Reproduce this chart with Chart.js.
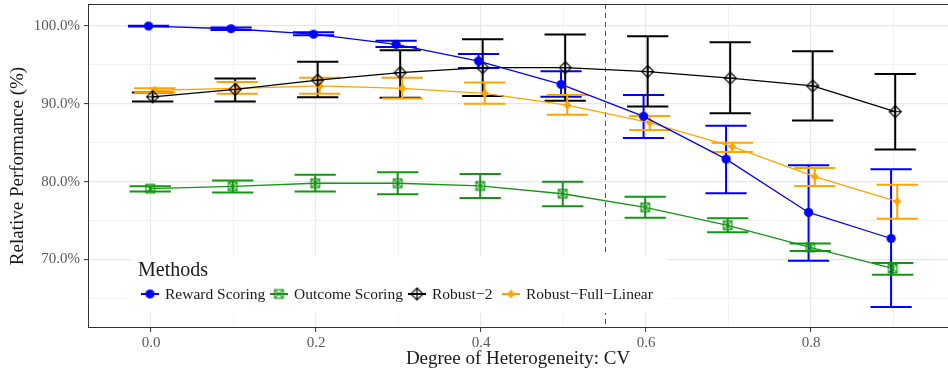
<!DOCTYPE html>
<html>
<head>
<meta charset="utf-8">
<script src="https://cdn.jsdelivr.net/npm/chart.js@4.4.1/dist/chart.umd.min.js"></script>
<style>
  html, body { margin: 0; padding: 0; background: #fff; }
  #wrap { width: 948px; height: 373px; }
</style>
</head>
<body>
<div id="wrap"><canvas id="perfChart" width="948" height="373"></canvas></div>
<script>
// CV levels on the x axis
const cvLevels = [0.0, 0.1, 0.2, 0.3, 0.4, 0.5, 0.6, 0.7, 0.8, 0.9];

// relative performance (%) with lower / upper error bounds
const rewardMean = [100.0, 99.65, 98.95, 97.65, 95.5, 92.5, 88.4, 82.9, 76.05, 72.7];
const rewardLow  = [99.95, 99.5, 98.8, 97.3, 94.6, 90.9, 85.6, 78.5, 69.85, 63.9];
const rewardHigh = [100.05, 99.8, 99.2, 98.1, 96.4, 94.2, 91.15, 87.2, 82.1, 81.6];

const outcomeMean = [79.1, 79.4, 79.8, 79.8, 79.45, 78.45, 76.7, 74.4, 71.55, 68.85];
const outcomeLow  = [78.75, 78.6, 78.75, 78.4, 77.9, 76.85, 75.35, 73.5, 71.1, 68.05];
const outcomeHigh = [79.4, 80.15, 80.9, 81.2, 81.0, 80.0, 78.05, 75.3, 72.05, 69.55];

const robust2Mean = [90.9, 91.85, 93.05, 94.0, 94.65, 94.65, 94.15, 93.3, 92.3, 89.0];
const robust2Low  = [90.3, 90.3, 90.85, 90.8, 91.0, 90.4, 89.65, 88.8, 87.85, 84.15];
const robust2High = [91.45, 93.25, 95.4, 96.9, 98.3, 98.9, 98.7, 97.9, 96.75, 93.85];

const fullLinMean = [91.75, 92.0, 92.3, 92.0, 91.35, 89.85, 87.6, 84.5, 80.65, 77.45];
const fullLinLow  = [91.45, 91.3, 91.3, 90.7, 90.0, 88.6, 86.65, 83.8, 79.45, 75.25];
const fullLinHigh = [92.0, 92.8, 93.35, 93.35, 92.75, 91.15, 88.45, 85.0, 81.75, 79.6];

const methodNames = ['Reward Scoring', 'Outcome Scoring', 'Robust\u22122', 'Robust\u2212Full\u2212Linear'];

const xTicks = [0.0, 0.2, 0.4, 0.6, 0.8];
const yTicks = [70, 80, 90, 100];
const cvCutoff = 0.55;

const SERIF = '"Liberation Serif", "DejaVu Serif", serif';
const GREEN = '#139613';

// marker images ---------------------------------------------------------
function markerCanvas(kind, color) {
    const c = document.createElement('canvas');
    c.width = 15; c.height = 15;
    const g = c.getContext('2d');
    const m = 7.5;
    g.strokeStyle = color;
    g.fillStyle = color;
    g.lineWidth = 1.2;
    if (kind === 'circle') {
        g.beginPath(); g.arc(m, m, 4.6, 0, Math.PI * 2); g.fill();
    } else if (kind === 'boxcross') {
        g.strokeRect(m - 4.3, m - 4.3, 8.6, 8.6);
        g.beginPath();
        g.moveTo(m - 4.3, m - 4.3); g.lineTo(m + 4.3, m + 4.3);
        g.moveTo(m + 4.3, m - 4.3); g.lineTo(m - 4.3, m + 4.3);
        g.stroke();
    } else if (kind === 'diamondplus') {
        g.beginPath();
        g.moveTo(m, m - 6); g.lineTo(m + 6, m); g.lineTo(m, m + 6); g.lineTo(m - 6, m); g.closePath();
        g.stroke();
        g.beginPath();
        g.moveTo(m, m - 6); g.lineTo(m, m + 6);
        g.moveTo(m - 6, m); g.lineTo(m + 6, m);
        g.stroke();
    } else if (kind === 'diamond') {
        g.beginPath();
        g.moveTo(m, m - 4.5); g.lineTo(m + 4, m); g.lineTo(m, m + 4.5); g.lineTo(m - 4, m); g.closePath();
        g.fill();
    }
    return c;
}

const series = [
    { name: methodNames[0], mean: rewardMean,  low: rewardLow,  high: rewardHigh,  color: '#0000ff', marker: 'circle',      dodge: -0.003 },
    { name: methodNames[1], mean: outcomeMean, low: outcomeLow, high: outcomeHigh, color: GREEN,     marker: 'boxcross',    dodge: -0.001 },
    { name: methodNames[2], mean: robust2Mean, low: robust2Low, high: robust2High, color: '#000000', marker: 'diamondplus', dodge: 0.002 },
    { name: methodNames[3], mean: fullLinMean, low: fullLinLow, high: fullLinHigh, color: '#ffa500', marker: 'diamond',     dodge: 0.0045 }
];
series.forEach(s => { s.img = markerCanvas(s.marker, s.color); });

// legend key left edges
const legendKeyX = [141, 270, 408, 502];

// error bars + cutoff line, under the series
const errorBars = {
    id: 'errorBars',
    beforeDatasetsDraw(chart) {
        const { ctx, chartArea, scales: { x, y } } = chart;
        ctx.save();
        ctx.beginPath();
        ctx.rect(chartArea.left, chartArea.top, chartArea.right - chartArea.left, chartArea.bottom - chartArea.top);
        ctx.clip();

        // dashed vertical line at the cutoff
        const xc = Math.round(x.getPixelForValue(cvCutoff)) + 0.5;
        ctx.strokeStyle = '#555';
        ctx.lineWidth = 1;
        ctx.setLineDash([5, 4]);
        ctx.beginPath();
        ctx.moveTo(xc, chartArea.top);
        ctx.lineTo(xc, chartArea.bottom);
        ctx.stroke();
        ctx.setLineDash([]);

        series.forEach(s => {
            ctx.strokeStyle = s.color;
            ctx.lineWidth = 2;
            cvLevels.forEach((cv, i) => {
                const px = x.getPixelForValue(cv + s.dodge);
                const x0 = x.getPixelForValue(cv + s.dodge - 0.025);
                const x1 = x.getPixelForValue(cv + s.dodge + 0.025);
                const yl = y.getPixelForValue(s.low[i]);
                const yh = y.getPixelForValue(s.high[i]);
                ctx.beginPath();
                ctx.moveTo(px, yl); ctx.lineTo(px, yh);
                ctx.moveTo(x0, yl); ctx.lineTo(x1, yl);
                ctx.moveTo(x0, yh); ctx.lineTo(x1, yh);
                ctx.stroke();
            });
        });
        ctx.restore();
    }
};

// panel border and the inset legend
const panelAndLegend = {
    id: 'panelAndLegend',
    afterDatasetsDraw(chart) {
        const { ctx, chartArea } = chart;
        ctx.save();
        ctx.strokeStyle = '#333';
        ctx.lineWidth = 1;
        ctx.strokeRect(chartArea.left + 0.5, chartArea.top + 0.5,
            chartArea.right - chartArea.left, chartArea.bottom - chartArea.top - 1);

        // legend box
        const bx = 131, by = 256, bw = 536, bh = 57;
        ctx.fillStyle = '#fff';
        ctx.fillRect(bx, by, bw, bh);

        ctx.fillStyle = '#1a1a1a';
        ctx.textBaseline = 'middle';
        ctx.font = '20px ' + SERIF;
        ctx.fillText('Methods', 138, 271);

        ctx.font = '15.5px ' + SERIF;
        const ly = 294;
        series.forEach((s, i) => {
            const lx = legendKeyX[i];
            ctx.strokeStyle = s.color;
            ctx.lineWidth = 2;
            ctx.beginPath();
            ctx.moveTo(lx, ly); ctx.lineTo(lx + 18, ly);
            ctx.stroke();
            ctx.drawImage(s.img, lx + 9 - 7.5, ly - 7.5);
            ctx.fillStyle = '#1a1a1a';
            ctx.fillText(s.name, lx + 24, ly + 0.5);
        });
        ctx.restore();
    }
};

const isMajorX = v => xTicks.some(t => Math.abs(t - v) < 1e-6);
const isMajorY = v => yTicks.some(t => Math.abs(t - v) < 1e-6);

// drop the label overhang chart.js reserves at the axis ends
function noOverhang(scale) {
    scale.paddingTop = 0;
    scale.paddingBottom = 0;
    scale.paddingLeft = 0;
    scale.paddingRight = 0;
}

new Chart(document.getElementById('perfChart').getContext('2d'), {
    type: 'line',
    data: {
        datasets: series.map(s => ({
            label: s.name,
            data: cvLevels.map((cv, i) => ({ x: cv + s.dodge, y: s.mean[i] })),
            borderColor: s.color,
            backgroundColor: s.color,
            borderWidth: 1.3,
            pointStyle: s.img,
            pointRadius: 5,
            pointHoverRadius: 5,
            tension: 0
        }))
    },
    options: {
        responsive: false,
        animation: false,
        events: [],
        layout: { autoPadding: false, padding: { top: 4, right: 0, left: 0, bottom: 0 } },
        plugins: {
            legend: { display: false },
            tooltip: { enabled: false }
        },
        scales: {
            x: {
                type: 'linear',
                min: -0.0764,
                max: 0.966,
                afterBuildTicks(scale) {
                    scale.ticks = [0, 0.1, 0.2, 0.3, 0.4, 0.5, 0.6, 0.7, 0.8, 0.9].map(v => ({ value: v }));
                },
                afterFit(scale) { scale.height = 45; noOverhang(scale); },
                border: { display: false },
                grid: {
                    color: ctx => isMajorX(ctx.tick.value) ? '#e8e8e8' : '#f0f0f0',
                    lineWidth: ctx => isMajorX(ctx.tick.value) ? 1.2 : 0.9,
                    tickColor: ctx => isMajorX(ctx.tick.value) ? '#333' : 'rgba(0,0,0,0)',
                    tickLength: 4,
                    tickWidth: 1
                },
                ticks: {
                    autoSkip: false,
                    maxRotation: 0,
                    padding: 2,
                    color: '#5a5a5a',
                    font: { family: SERIF, size: 15 },
                    callback: v => isMajorX(v) ? v.toFixed(1) : ''
                },
                title: {
                    display: true,
                    text: 'Degree of Heterogeneity: CV',
                    color: '#1a1a1a',
                    font: { family: SERIF, size: 19 },
                    padding: { top: 0, bottom: 3 }
                }
            },
            y: {
                min: 61.2,
                max: 102.83,
                afterBuildTicks(scale) {
                    scale.ticks = [65, 70, 75, 80, 85, 90, 95, 100].map(v => ({ value: v }));
                },
                afterFit(scale) { scale.width = 88; noOverhang(scale); },
                border: { display: false },
                grid: {
                    color: ctx => isMajorY(ctx.tick.value) ? '#e8e8e8' : '#f0f0f0',
                    lineWidth: ctx => isMajorY(ctx.tick.value) ? 1.2 : 0.9,
                    tickColor: ctx => isMajorY(ctx.tick.value) ? '#333' : 'rgba(0,0,0,0)',
                    tickLength: 4,
                    tickWidth: 1
                },
                ticks: {
                    autoSkip: false,
                    padding: 4,
                    color: '#5a5a5a',
                    font: { family: SERIF, size: 15 },
                    callback: v => isMajorY(v) ? v.toFixed(1) + '%' : ''
                },
                title: {
                    display: true,
                    text: 'Relative Performance (%)',
                    color: '#1a1a1a',
                    font: { family: SERIF, size: 19 },
                    padding: { top: 7, bottom: 0 }
                }
            }
        }
    },
    plugins: [errorBars, panelAndLegend]
});
</script>
</body>
</html>
